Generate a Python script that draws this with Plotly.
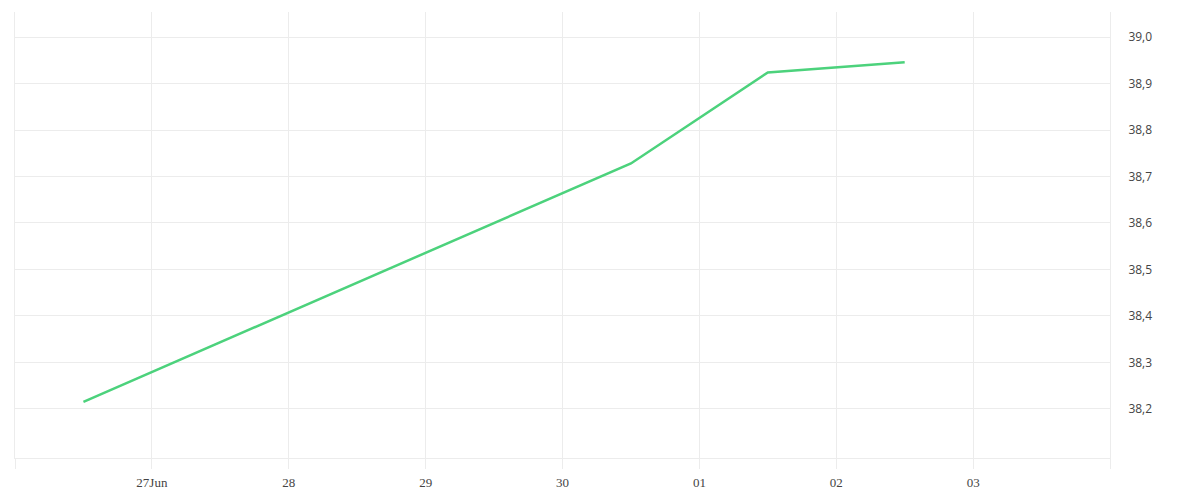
import plotly.graph_objects as go

# Data
dates = ["2023-06-26 12:00", "2023-06-30 12:00", "2023-07-01 12:00", "2023-07-02 12:00"]
values = [38.215, 38.728, 38.924, 38.946]

x_tickvals = ["2023-06-26", "2023-06-27", "2023-06-28", "2023-06-29", "2023-06-30",
              "2023-07-01", "2023-07-02", "2023-07-03", "2023-07-04"]
x_ticktext = ["", "27Jun", "28", "29", "30", "01", "02", "03", ""]
y_tickvals = [38.2, 38.3, 38.4, 38.5, 38.6, 38.7, 38.8, 38.9, 39.0]

x_range = ["2023-06-26", "2023-07-04"]
y_range = [38.094, 39.054]

grid = "#ececec"

fig = go.Figure()
fig.add_trace(go.Scatter(
    x=dates, y=values, mode="lines",
    line=dict(color="#4cd27c", width=2.5),
    hoverinfo="skip",
))

fig.update_layout(
    width=1192, height=492,
    margin=dict(l=7, r=90, t=4, b=42),
    paper_bgcolor="white", plot_bgcolor="white",
    showlegend=False,
    separators=",.",
    xaxis=dict(
        range=x_range, type="date",
        tickvals=x_tickvals, ticktext=x_ticktext,
        showgrid=True, gridcolor=grid, gridwidth=1,
        ticks="outside", ticklen=10, tickcolor=grid, tickwidth=1,
        showline=True, linecolor=grid, linewidth=1,
        zeroline=False, automargin=False,
        ticklabelstandoff=2,
        tickfont=dict(family="Liberation Serif", size=13, color="#444"),
    ),
    yaxis=dict(
        range=y_range, side="right",
        tickvals=y_tickvals, tickformat=".1f",
        showgrid=True, gridcolor=grid, gridwidth=1,
        ticks="", showline=True, linecolor=grid, linewidth=1, mirror=True,
        zeroline=False, automargin=False,
        ticklabelstandoff=15,
        tickfont=dict(family="Open Sans", size=12, color="#444"),
    ),
)

fig.write_html("out.html")
